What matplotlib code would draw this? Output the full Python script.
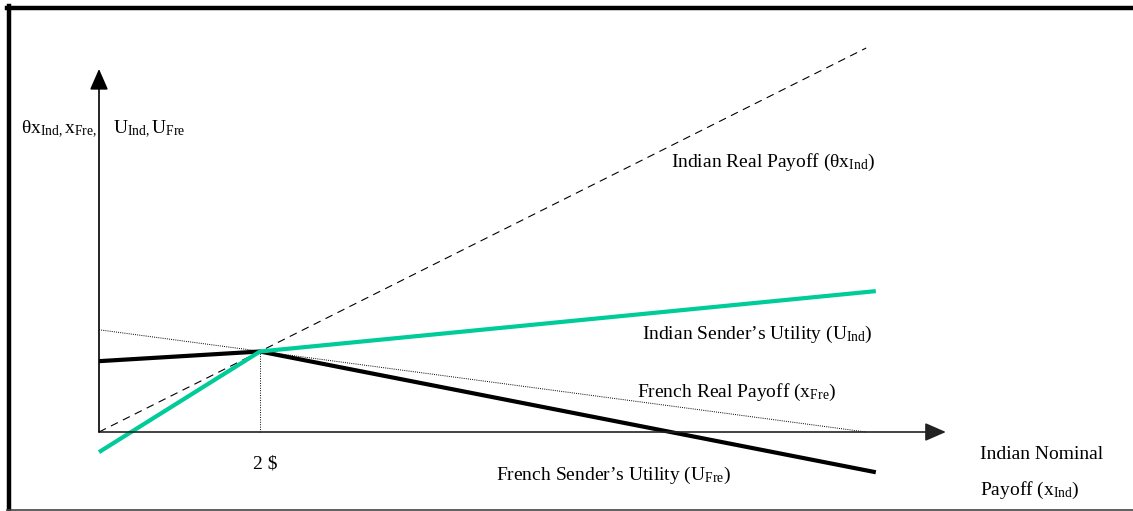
import matplotlib
matplotlib.use("Agg")
import matplotlib.pyplot as plt
from matplotlib.lines import Line2D

plt.rcParams['font.family'] = ['Liberation Serif', 'DejaVu Serif']
plt.rcParams['mathtext.fontset'] = 'custom'
plt.rcParams['mathtext.rm'] = 'Liberation Serif'
plt.rcParams['mathtext.it'] = 'Liberation Serif'
plt.rcParams['mathtext.bf'] = 'Liberation Serif'

# ---- data (diagram units: x = Indian nominal payoff) ----
x_real = [0, 9.53]
y_real_ind = [0, 4.77]          # Indian real payoff (theta * x_Ind)
x_util = [0, 2, 9.65]
u_ind = [-0.25, 1.0, 1.75]      # Indian sender's utility
u_fre = [0.88, 1.0, -0.5]       # French sender's utility
x_fre = [0, 9.53]
y_fre = [1.27, 0]               # French real payoff
x_star = 2                      # 2 $
y_star = 1.0
x_axis_end = 10.52
y_axis_end = 4.51

PX = 80.5
fig = plt.figure(figsize=(11.33, 5.11), dpi=100)
ax = fig.add_axes([0, 0, 1, 1])
ax.set_xlim((0 - 99) / PX, (1133 - 99) / PX)
ax.set_ylim((432 - 511) / PX, (432 - 0) / PX)
ax.axis('off')

green = '#00CC99'
fs = 14

# axes with arrows
ax.annotate('', xy=(x_axis_end, 0), xytext=(0, 0),
            arrowprops=dict(arrowstyle='-|>,head_length=0.8,head_width=0.35', lw=1.2,
                            color='#222222', shrinkA=0, shrinkB=0, mutation_scale=16))
ax.annotate('', xy=(0, y_axis_end), xytext=(0, 0),
            arrowprops=dict(arrowstyle='-|>,head_length=0.8,head_width=0.35', lw=1.2,
                            color='black', shrinkA=0, shrinkB=0, mutation_scale=16))

# lines
ax.plot(x_real, y_real_ind, color='black', lw=0.8, ls=(0, (7, 5)))
ax.plot(x_fre, y_fre, color='black', lw=0.7, ls=(0, (1, 1.2)))
ax.plot([x_star, x_star], [0, y_star], color='black', lw=0.7, ls=(0, (1, 1.5)))
ax.plot(x_util, u_fre, color='black', lw=3.0, solid_capstyle='butt')
ax.plot(x_util, u_ind, color=green, lw=3.0, solid_capstyle='butt')

# texts
ax.text(-0.025, 3.71, r'$\theta$x$_{\mathrm{Ind,}}$x$_{\mathrm{Fre,}}$', ha='right', va='baseline', fontsize=fs)
ax.text(0.17, 3.71, r'U$_{\mathrm{Ind,}}$U$_{\mathrm{Fre}}$', ha='left', va='baseline', fontsize=fs)
ax.text(2.07, -0.45, '2 $', ha='center', va='baseline', fontsize=fs)
ax.text(9.64, 3.29, r'Indian Real Payoff ($\theta$x$_{\mathrm{Ind}}$)', ha='right', va='baseline', fontsize=fs)
ax.text(9.61, 1.16, r'Indian Sender’s Utility (U$_{\mathrm{Ind}}$)', ha='right', va='baseline', fontsize=fs)
ax.text(6.68, 0.43, r'French Real Payoff (x$_{\mathrm{Fre}}$)', ha='left', va='baseline', fontsize=fs)
ax.text(4.93, -0.59, r'French Sender’s Utility (U$_{\mathrm{Fre}}$)', ha='left', va='baseline', fontsize=fs)
ax.text(10.94, -0.33, 'Indian Nominal', ha='left', va='baseline', fontsize=fs)
ax.text(10.94, -0.78, r'Payoff (x$_{\mathrm{Ind}}$)', ha='left', va='baseline', fontsize=fs)

# frame
W, H = 1133, 511
fig.add_artist(Line2D([9 / W, 9 / W], [1 - 6 / H, 1 - 510 / H], color='black', lw=3.2, transform=fig.transFigure))
fig.add_artist(Line2D([7 / W, 1.0], [1 - 8 / H, 1 - 8 / H], color='black', lw=3.2, transform=fig.transFigure))
fig.add_artist(Line2D([7 / W, 1.0], [1 - 510 / H, 1 - 510 / H], color='#444444', lw=1.2, transform=fig.transFigure))

fig.savefig('out.png', dpi=100)
